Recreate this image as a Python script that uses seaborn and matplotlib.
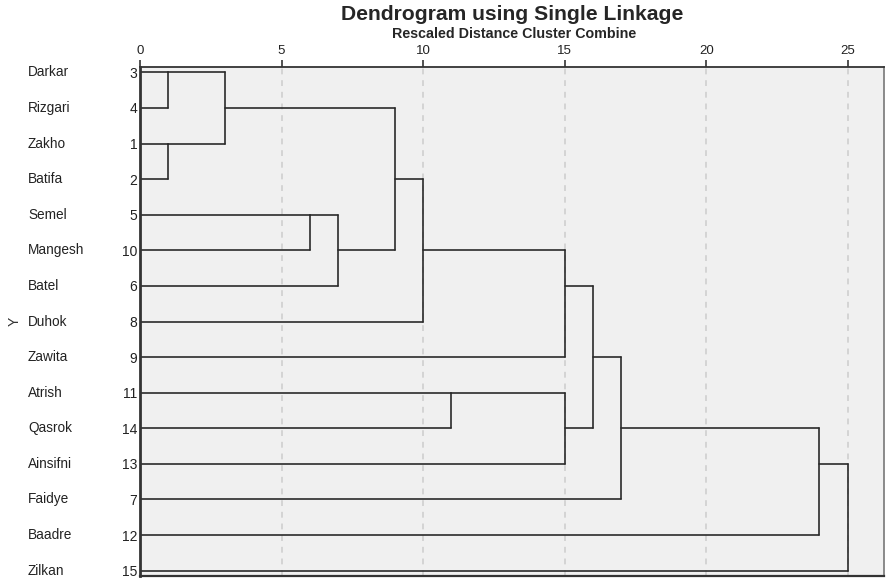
import numpy as np
import pandas as pd
import seaborn as sns
import matplotlib.pyplot as plt

# leaves in the order they are drawn, top to bottom
names = ["Darkar", "Rizgari", "Zakho", "Batifa", "Semel", "Mangesh", "Batel", "Duhok",
         "Zawita", "Atrish", "Qasrok", "Ainsifni", "Faidye", "Baadre", "Zilkan"]
case_ids = [3, 4, 1, 2, 5, 10, 6, 8, 9, 11, 14, 13, 7, 12, 15]

# merge steps: (cluster a, cluster b, rescaled distance); leaves are 0..14, new clusters 15+
merge_a = [0, 2, 15, 4, 18, 17, 20, 9, 21, 22, 23, 25, 26, 27]
merge_b = [1, 3, 16, 5, 6, 19, 7, 10, 8, 11, 24, 12, 13, 14]
merge_dist = [1, 1, 3, 6, 7, 9, 10, 11, 15, 15, 16, 17, 24, 25]

# walk the merges and collect the elbow segments
node_x = {i: 0.0 for i in range(len(names))}
node_y = {i: float(i) for i in range(len(names))}
rows = []
seg = 0
for k, (a, b, d) in enumerate(zip(merge_a, merge_b, merge_dist)):
    for c in (a, b):
        rows += [(seg, node_x[c], node_y[c]), (seg, d, node_y[c])]
        seg += 1
    rows += [(seg, d, node_y[a]), (seg, d, node_y[b])]
    seg += 1
    new = len(names) + k
    node_x[new] = d
    node_y[new] = np.floor((node_y[a] + node_y[b]) / 2)
df = pd.DataFrame(rows, columns=["seg", "x", "y"])

sns.set_style("ticks", {"axes.facecolor": "#f0f0f0"})
plt.rcParams["font.family"] = ["Liberation Sans", "DejaVu Sans"]

fig = plt.figure(figsize=(8.88, 5.81), dpi=100)
ax = fig.add_axes([140 / 888, 1 - 576 / 581, 744 / 888, 509 / 581])

sns.lineplot(data=df, x="x", y="y", units="seg", estimator=None, sort=False,
             color="#2a2a2a", linewidth=1.2, ax=ax)

ax.set_xlim(0, 26.28)
ax.set_ylim(len(names) - 1 + 0.15, -0.15)
ax.set_xticks([0, 5, 10, 15, 20, 25])
ax.xaxis.tick_top()
ax.tick_params(axis="x", direction="out", length=5, width=1.2, pad=2, labelsize=9.5,
               color="#333333", labelcolor="#222222")
ax.set_yticks(range(len(names)))
ax.set_yticklabels([str(c) for c in case_ids])
ax.tick_params(axis="y", length=0, pad=2, labelsize=10, labelcolor="#222222")
ax.grid(axis="x", color="#d4d4d4", linestyle=(0, (3, 3)), linewidth=1.4)
ax.set_xlabel("")
ax.set_ylabel("Y", fontsize=10, rotation=90, va="center", ha="center", color="#333333")
ax.yaxis.set_label_coords(-0.169, 0.5)

for i, n in enumerate(names):
    ax.text(-0.1505, i, n, transform=ax.get_yaxis_transform(), ha="left", va="center",
            fontsize=9.8, color="#222222")

for side in ["left", "top", "bottom"]:
    ax.spines[side].set_color("#333333")
ax.spines["left"].set_linewidth(2)
ax.spines["top"].set_linewidth(1.3)
ax.spines["bottom"].set_linewidth(1.6)
ax.spines["right"].set_color("#777777")
ax.spines["right"].set_linewidth(1.2)

fig.text(512 / 888, 1 - 15 / 581, "Dendrogram using Single Linkage", ha="center", va="center",
         fontsize=15.2, fontweight="bold")
fig.text(514 / 888, 1 - 34 / 581, "Rescaled Distance Cluster Combine", ha="center", va="center",
         fontsize=10.3, fontweight="bold")

fig.savefig("out.png", dpi=100)
